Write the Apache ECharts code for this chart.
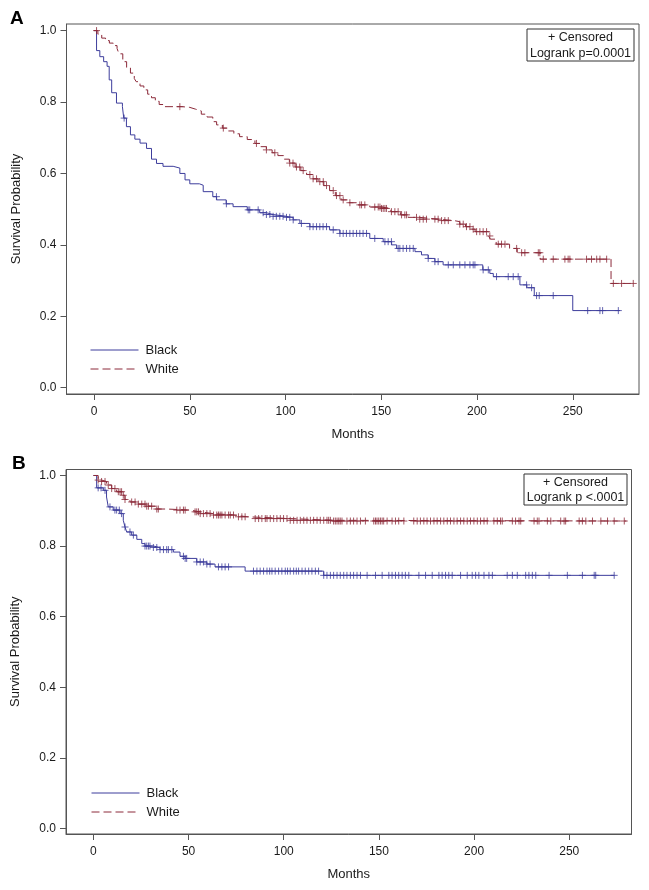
<!DOCTYPE html>
<html>
<head>
<meta charset="utf-8">
<script src="https://cdn.jsdelivr.net/npm/echarts@6/dist/echarts.min.js"></script>
<style>html,body{margin:0;padding:0;background:#fff}#c{width:649px;height:890px}</style>
</head>
<body>
<div id="c"></div>
<script>
// ---- Data (months, survival probability) ----
const xTicks = [0, 50, 100, 150, 200, 250];
const yTicks = [0, 0.2, 0.4, 0.6, 0.8, 1.0];

// Panel A: Kaplan-Meier steps [month, survival]
const blackA = [[0,1],[1.3,0.944],[3,0.927],[5,0.913],[6.8,0.9],[7.9,0.862],[9.2,0.826],[11.7,0.797],[14.8,0.787],[15.5,0.755],[16.9,0.731],[19,0.708],[21.3,0.696],[24,0.685],[27.4,0.67],[30,0.64],[32.6,0.628],[36,0.62],[41.3,0.615],[44.8,0.6],[47.5,0.582],[50,0.571],[55,0.567],[57,0.549],[62,0.535],[64,0.526],[69,0.515],[72.6,0.507],[80,0.498],[86.5,0.49],[90,0.485],[93.5,0.48],[100,0.477],[104,0.47],[107.5,0.46],[112.7,0.451],[123,0.442],[128.4,0.432],[144,0.418],[151,0.409],[155.4,0.40],[158,0.39],[167.6,0.381],[171,0.372],[174.5,0.362],[178,0.353],[182.3,0.344],[203,0.33],[206.7,0.32],[208.5,0.311],[222.4,0.288],[226,0.28],[229.9,0.258],[250,0.216],[274.7,0.216]];
const whiteA = [[0,1],[2,0.99],[4,0.979],[6,0.972],[8,0.965],[10,0.958],[12,0.95],[13,0.935],[15,0.913],[17,0.897],[19,0.881],[21,0.866],[22,0.857],[24,0.845],[26,0.834],[28,0.822],[30,0.812],[32,0.802],[34,0.793],[36,0.787],[46,0.785],[50,0.78],[53,0.775],[56,0.766],[59,0.758],[62,0.745],[64,0.736],[67,0.727],[70,0.719],[73,0.711],[76,0.703],[80,0.695],[84,0.684],[87,0.675],[90,0.666],[93,0.658],[96,0.65],[99,0.64],[102,0.629],[105,0.618],[108,0.608],[111,0.597],[114,0.585],[117,0.577],[120,0.566],[123,0.552],[126,0.538],[129,0.526],[133,0.518],[138,0.512],[144,0.506],[150,0.502],[155,0.493],[160,0.484],[164,0.477],[170,0.472],[180,0.468],[188,0.465],[191,0.458],[194,0.451],[197,0.444],[199,0.437],[206,0.425],[207,0.416],[210,0.402],[217,0.39],[221,0.378],[233,0.36],[270,0.292],[281.6,0.292]];
// censored times (months)
const blackCensA = [15.7,63.9,69.1,80.5,81.3,85.7,88.3,90,91.8,93.5,95.2,97,98.7,100.5,102.2,104,108.3,112.7,114.4,116.2,117.9,119.6,121.4,124.9,128.4,130.1,131.8,133.6,135.3,137.1,138.8,140.5,142.3,146.6,151.9,153.6,155.3,158.8,159.7,161.4,163.2,164.9,166.7,174.5,178,179.7,185,187.6,191,193.7,196.3,198,198.9,203.2,205.9,210.2,216.3,218.9,221.5,225.9,228.5,231.1,232.5,239.8,257.8,264.2,265.6,273.8];
const whiteCensA = [1.3,44.8,67.5,84.8,90,94.4,102.2,103.9,105.7,107.4,109.2,112.7,114.4,116.2,117.9,119.7,121.4,124.9,126.6,128.4,130.1,133.6,138.8,139.7,141.4,146.6,148.4,149.3,150.1,151,151.9,152.7,155.3,157.1,158.8,160.6,162.3,163.2,168.4,170.1,171.9,173.6,178,179.7,181.5,183.2,185,191,192.8,194.5,196.3,198,199.8,201.5,203.2,205,206.7,211.1,212.8,214.6,220.7,223.3,225,232,232.8,234.6,239.8,245.9,247.6,248.5,257.2,259.8,262.5,264.2,267.7,271.2,275.5,281.6];

// Panel B
const blackB = [[0,1],[1.7,0.965],[5.2,0.958],[6.9,0.939],[7.8,0.911],[10.4,0.902],[14,0.892],[15.7,0.873],[16.6,0.854],[17.5,0.84],[20.1,0.831],[22.8,0.819],[25.4,0.807],[27.1,0.80],[31.5,0.796],[35,0.79],[42,0.783],[45.5,0.771],[48.2,0.765],[54.3,0.755],[59.6,0.749],[63.9,0.741],[79.7,0.729],[121,0.717],[273.6,0.717]];
const whiteB = [[0,1],[2.5,0.987],[4.3,0.983],[6.9,0.973],[9.6,0.963],[12.2,0.954],[14.9,0.944],[16.6,0.932],[19.2,0.925],[22.8,0.919],[28,0.913],[33.3,0.905],[38.5,0.902],[50.8,0.897],[56,0.892],[63,0.888],[73.7,0.883],[80.7,0.878],[103.4,0.873],[125,0.871],[280,0.871]];
const blackCensB = [2.5,4,6.1,8.7,11.3,12.2,13.6,14.8,16.6,19.2,21,27.1,28,28.9,29.7,31.5,33.3,35,36.8,38.5,39.4,41.2,47.3,48.2,49,54.3,56.1,57.8,59.6,61.3,65.7,67.5,69.2,71,84.1,85.9,87.6,89.4,91.2,92.6,93.8,95.5,97.3,99,100.8,102,103.4,105.2,106.6,107.8,109.6,111.3,113.1,114.8,116.6,118.3,121,122.7,124.5,126.2,128,129.7,131.5,133.2,135,136.7,138.5,140.3,143.8,148.2,151.7,155.2,156.9,158.7,160.4,162.2,163.9,165.7,171,174.5,178,181.5,183.2,185,186.7,188.5,192.9,196.4,199,200.8,202.5,205.2,207.8,209.6,217.4,220.1,222.7,227.1,228.8,230.6,232.4,239.4,249,256.9,263.1,263.9,273.6];
const whiteCensB = [2.5,4.3,6.1,7.8,9.6,11.3,13.1,14,14.8,15.7,16.6,20.1,21.9,23.6,25.4,27.1,28,28.9,30.6,33.3,34.1,43.8,45.5,47.3,48.2,53.4,54.3,55.2,56.1,57.8,59.6,61.3,63.1,64.8,65.7,66.6,67.5,69.2,71,71.9,73.6,76.2,78,79.7,85,86.8,88.5,90.3,91.2,92.9,94.7,96.4,98.2,99.9,101.7,103.4,105.2,107,108.7,110.5,112.2,114,115.7,117.5,119.2,121,122.7,123.6,124.5,126.2,127.1,128,128.9,129.7,130.6,133.2,135,136.7,138.5,140.3,142.9,147.3,148.2,149,149.9,150.8,151.7,152.5,154.3,156.9,158.7,160.4,163.1,168.3,170.1,171.8,173.6,175.3,177.1,178.9,180.6,182.4,184.1,185.9,187.6,189.4,191.1,192.9,194.6,196.4,198.1,199.9,201.7,203.4,205.2,206.9,210.4,212.2,213.9,214.8,220.1,221.8,223.6,224.5,231.5,233.2,234.1,238.5,240.3,245.5,247.3,248.1,255.2,256.9,258.7,262.2,266.6,270.1,273.6,278.9];

// ---- Helpers ----
function survAt(curve, t) {
  let s = curve[0][1];
  for (const p of curve) { if (p[0] <= t) s = p[1]; else break; }
  return s;
}
function censPoints(curve, times) { return times.map(t => [t, survAt(curve, t)]); }

const BLUE = '#3d3d9c';
const RED = '#8c2a3a';
const AXIS = '#555';
const TXT = '#1a1a1a';
const FONT = 'Liberation Sans, Arial, sans-serif';
const PLUS = 'path://M5,0L5,10M0,5L10,5';

function xAxisFor(grid, min, max) {
  return {
    type: 'value', gridIndex: grid, min: min, max: max,
    name: 'Months', nameLocation: 'middle', nameGap: 34,
    nameTextStyle: { fontFamily: FONT, fontSize: 13, color: TXT },
    axisLine: { show: true, onZero: false, lineStyle: { color: AXIS, width: 1 } },
    axisTick: { show: true, inside: false, length: 6, lineStyle: { color: AXIS }, customValues: xTicks },
    axisLabel: { fontFamily: FONT, fontSize: 12, color: TXT, margin: 12, customValues: xTicks, formatter: v => String(v) },
    splitLine: { show: false }
  };
}
function yAxisFor(grid, min, max) {
  return {
    type: 'value', gridIndex: grid, min: min, max: max,
    name: 'Survival Probability', nameLocation: 'middle', nameGap: 44,
    nameTextStyle: { fontFamily: FONT, fontSize: 13, color: TXT },
    axisLine: { show: true, onZero: false, lineStyle: { color: AXIS, width: 1 } },
    axisTick: { show: true, inside: false, length: 6, lineStyle: { color: AXIS }, customValues: yTicks },
    axisLabel: { fontFamily: FONT, fontSize: 12, color: TXT, margin: 10, customValues: yTicks, formatter: v => v.toFixed(1) },
    splitLine: { show: false }
  };
}
function kmSeries(name, data, color, dashed, idx) {
  return {
    name: name, type: 'line', xAxisIndex: idx, yAxisIndex: idx, step: 'end',
    data: data, symbol: 'none', showSymbol: false, animation: false,
    lineStyle: { color: color, width: 1, type: dashed ? [8, 4] : 'solid' },
    itemStyle: { color: color }, z: 3
  };
}
function censSeries(name, pts, color, idx) {
  return {
    name: name, type: 'scatter', xAxisIndex: idx, yAxisIndex: idx, data: pts,
    symbol: PLUS, symbolSize: 7, animation: false,
    itemStyle: { color: 'rgba(0,0,0,0)', borderColor: color, borderWidth: 1 }, z: 4
  };
}
function legendFor(top, left) {
  return {
    orient: 'vertical', left: left, top: top, itemWidth: 48, itemHeight: 14, itemGap: 6,
    data: [
      { name: 'Black', lineStyle: { color: BLUE, width: 1, type: 'solid' } },
      { name: 'White', lineStyle: { color: RED, width: 1, type: [8, 4] } }
    ],
    selectedMode: false,
    itemStyle: { opacity: 0, borderWidth: 0 },
    textStyle: { fontFamily: FONT, fontSize: 13, color: TXT, padding: [0, 0, 0, 2] }
  };
}
function boxGroup(x, y, w, h, line2) {
  return {
    type: 'group', children: [
      { type: 'rect', shape: { x: x, y: y, width: w, height: h }, style: { fill: '#fff', stroke: '#333', lineWidth: 1 }, z: 10 },
      { type: 'text', x: x + w / 2, y: y + h * 0.27, style: { text: '+ Censored', font: '12.5px ' + FONT, fill: TXT, align: 'center', verticalAlign: 'middle' }, z: 11 },
      { type: 'text', x: x + w / 2, y: y + h * 0.76, style: { text: line2, font: '12.5px ' + FONT, fill: TXT, align: 'center', verticalAlign: 'middle' }, z: 11 }
    ]
  };
}

const chart = echarts.init(document.getElementById('c'), null, { renderer: 'canvas' });
chart.setOption({
  backgroundColor: '#fff',
  animation: false,
  grid: [
    { left: 66.5, top: 24, right: 10, bottom: 496, show: true, borderColor: AXIS, borderWidth: 1, backgroundColor: 'transparent' },
    { left: 66, top: 469.5, right: 17.5, bottom: 56, show: true, borderColor: AXIS, borderWidth: 1, backgroundColor: 'transparent' }
  ],
  xAxis: [xAxisFor(0, -14.4, 284.6), xAxisFor(1, -14.4, 282.7)],
  yAxis: [yAxisFor(0, -0.0176, 1.0185), yAxisFor(1, -0.016, 1.017)],
  legend: [legendFor(338.5, 85), legendFor(781.5, 86)],
  series: [
    kmSeries('Black', blackA, BLUE, false, 0),
    kmSeries('White', whiteA, RED, true, 0),
    censSeries('Black censored A', censPoints(blackA, blackCensA), BLUE, 0),
    censSeries('White censored A', censPoints(whiteA, whiteCensA), RED, 0),
    kmSeries('Black', blackB, BLUE, false, 1),
    kmSeries('White', whiteB, RED, true, 1),
    censSeries('Black censored B', censPoints(blackB, blackCensB), BLUE, 1),
    censSeries('White censored B', censPoints(whiteB, whiteCensB), RED, 1)
  ],
  graphic: [
    { type: 'text', left: 10, top: 9, style: { text: 'A', font: 'bold 19px ' + FONT, fill: '#000' } },
    { type: 'text', left: 12, top: 454, style: { text: 'B', font: 'bold 19px ' + FONT, fill: '#000' } },
    boxGroup(527, 29, 107, 32, 'Logrank p=0.0001'),
    boxGroup(524, 474, 103, 31, 'Logrank p <.0001')
  ]
});
</script>
</body>
</html>
